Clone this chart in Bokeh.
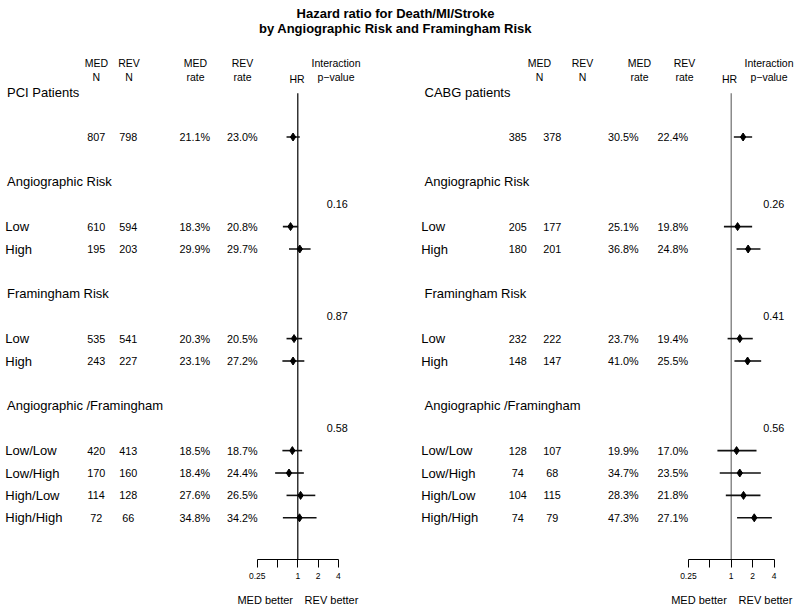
from bokeh.plotting import figure
from bokeh.models import Range1d, LogScale, LinearAxis, FixedTicker, ColumnDataSource
from bokeh.core.properties import value
from bokeh.embed import file_html
from bokeh.resources import INLINE

# ---------------- data ----------------
title_lines = ["Hazard ratio for Death/MI/Stroke", "by Angiographic Risk and Framingham Risk"]

header_top = ["MED", "REV", "MED", "REV"]
header_bot = ["N", "N", "rate", "rate"]
hr_header = "HR"
pval_header = ["Interaction", "p\u2212value"]

left_groups = ["PCI Patients", "Angiographic Risk", "Framingham Risk", "Angiographic /Framingham"]
right_groups = ["CABG patients", "Angiographic Risk", "Framingham Risk", "Angiographic /Framingham"]

row_labels = ["", "Low", "High", "Low", "High", "Low/Low", "Low/High", "High/Low", "High/High"]

# PCI patients
pci_med_n = ["807", "610", "195", "535", "243", "420", "170", "114", "72"]
pci_rev_n = ["798", "594", "203", "541", "227", "413", "160", "128", "66"]
pci_med_rate = ["21.1%", "18.3%", "29.9%", "20.3%", "23.1%", "18.5%", "18.4%", "27.6%", "34.8%"]
pci_rev_rate = ["23.0%", "20.8%", "29.7%", "20.5%", "27.2%", "18.7%", "24.4%", "26.5%", "34.2%"]
pci_hr = [0.85, 0.78, 1.07, 0.88, 0.85, 0.83, 0.74, 1.10, 1.06]
pci_lo = [0.68, 0.60, 0.74, 0.68, 0.59, 0.59, 0.46, 0.68, 0.60]
pci_hi = [1.07, 1.01, 1.55, 1.16, 1.25, 1.16, 1.23, 1.82, 1.90]
pci_pvals = ["0.16", "0.87", "0.58"]

# CABG patients
cabg_med_n = ["385", "205", "180", "232", "148", "128", "74", "104", "74"]
cabg_rev_n = ["378", "177", "201", "222", "147", "107", "68", "115", "79"]
cabg_med_rate = ["30.5%", "25.1%", "36.8%", "23.7%", "41.0%", "19.9%", "34.7%", "28.3%", "47.3%"]
cabg_rev_rate = ["22.4%", "19.8%", "24.8%", "19.4%", "25.5%", "17.0%", "23.5%", "21.8%", "27.1%"]
cabg_hr = [1.47, 1.23, 1.73, 1.32, 1.70, 1.19, 1.32, 1.49, 2.11]
cabg_lo = [1.09, 0.79, 1.19, 0.89, 1.11, 0.64, 0.69, 0.84, 1.21]
cabg_hi = [1.97, 1.97, 2.58, 2.01, 2.64, 2.27, 2.61, 2.58, 3.73]
cabg_pvals = ["0.26", "0.41", "0.56"]

null_hr = 1.0
tick_vals = [0.25, 0.5, 1, 2, 4]
tick_labels = ["0.25", "", "1", "2", "4"]
better_labels = ["MED better", "REV better"]

# row slots (layout)
group_rows = [0, 4, 9, 14]
data_rows = [2, 6, 7, 11, 12, 16, 17, 18, 19]
pval_rows = [5, 10, 15]

# ---------------- layout ----------------
FONT = "Liberation Sans"
W, H = 800, 610
ROW0, ROWH = 91.7, 22.4


def ry(img_y):
    return (img_y - ROW0) / ROWH


def fx(img_x):
    return img_x


p = figure(width=W, height=H, output_backend="svg", toolbar_location=None,
           x_axis_type=None, y_axis_type=None, min_border=0,
           x_range=Range1d(0, W), y_range=Range1d(ry(H), ry(0)))
p.outline_line_color = None
p.background_fill_color = "white"
p.border_fill_color = "white"

# log scales for the two forest panels
L_ONE, L_K = fx(297.3), 20.25
R_ONE, R_K = fx(730.7), 21.4
p.extra_x_ranges = {
    "L": Range1d(2 ** (-L_ONE / L_K), 2 ** ((W - L_ONE) / L_K)),
    "R": Range1d(2 ** (-R_ONE / R_K), 2 ** ((W - R_ONE) / R_K)),
}
p.extra_x_scales = {"L": LogScale(), "R": LogScale()}


def txt(xs, ys, texts, size, align="center", style="normal", baseline="middle"):
    p.text(x=xs, y=ys, text=texts, text_font=value(FONT), text_font_size=size,
           text_font_style=style, text_align=align, text_baseline=baseline,
           text_color="black")


# title
txt([fx(395)] * 2, [ry(12.7), ry(27.7)], title_lines, "13px", style="bold")

panels = [
    dict(groups=left_groups, med_n=pci_med_n, rev_n=pci_rev_n, med_rate=pci_med_rate,
         rev_rate=pci_rev_rate, hr=pci_hr, lo=pci_lo, hi=pci_hi, pv=pci_pvals, rng="L",
         head_x=[95.8, 128.5, 195, 242], hr_x=296.5, pvh_x=335.5,
         col_x=[95.7, 127.7, 194.3, 241.7], pv_x=336.7, grp_x=6.5, lab_x=4.8,
         vline="black", better_x=[264.7, 331]),
    dict(groups=right_groups, med_n=cabg_med_n, rev_n=cabg_rev_n, med_rate=cabg_med_rate,
         rev_rate=cabg_rev_rate, hr=cabg_hr, lo=cabg_lo, hi=cabg_hi, pv=cabg_pvals, rng="R",
         head_x=[539, 582, 639, 684], hr_x=729, pvh_x=768.5,
         col_x=[517.3, 551.7, 622.7, 672.3], pv_x=773.3, grp_x=424, lab_x=420.7,
         vline="#6e6e6e", better_x=[698.5, 765]),
]

for pn in panels:
    # column headers
    txt([fx(x) for x in pn["head_x"]], [ry(62.7)] * 4, header_top, "10.5px")
    txt([fx(x) for x in pn["head_x"]], [ry(76)] * 4, header_bot, "10.5px")
    txt([fx(pn["hr_x"])], [ry(78.5)], [hr_header], "10.5px")
    txt([fx(pn["pvh_x"])] * 2, [ry(62.7), ry(76)], pval_header, "10.5px")

    # group headings and row labels
    txt([fx(pn["grp_x"])] * 4, group_rows, pn["groups"], "13px", align="left")
    txt([fx(pn["lab_x"])] * len(data_rows), data_rows, row_labels, "13px", align="left")

    # numeric columns
    for cx, col in zip(pn["col_x"], ["med_n", "rev_n", "med_rate", "rev_rate"]):
        txt([fx(cx)] * len(data_rows), data_rows, pn[col], "10.8px")
    txt([fx(pn["pv_x"])] * 3, pval_rows, pn["pv"], "10.8px")

    # forest plot
    src = ColumnDataSource(dict(row=data_rows, hr=pn["hr"], lo=pn["lo"], hi=pn["hi"]))
    p.segment(x0=[null_hr], x1=[null_hr], y0=[ry(92.7)], y1=[ry(559.3)],
              line_color=pn["vline"], line_width=1.2, x_range_name=pn["rng"])
    p.segment(x0="lo", x1="hi", y0="row", y1="row", source=src, line_color="#111111",
              line_width=1.6, x_range_name=pn["rng"])
    p.scatter(x="hr", y="row", source=src, marker="diamond", size=8, fill_color="black",
              line_color="black", x_range_name=pn["rng"])

    ax = LinearAxis(x_range_name=pn["rng"], fixed_location=ry(559.3),
                    bounds=(tick_vals[0], tick_vals[-1]),
                    ticker=FixedTicker(ticks=tick_vals),
                    major_label_overrides={float(v): s for v, s in zip(tick_vals, tick_labels)})
    ax.axis_line_color = "black"
    ax.axis_line_width = 1
    ax.major_tick_line_color = "black"
    ax.major_tick_out = 8
    ax.major_tick_in = 0
    ax.minor_tick_line_color = None
    ax.major_label_standoff = 5
    ax.major_label_text_font = FONT
    ax.major_label_text_font_size = "8.5px"
    ax.major_label_text_color = "black"
    p.add_layout(ax, "below")

    txt([fx(x) for x in pn["better_x"]], [ry(599)] * 2, better_labels, "11px")

open("out.html", "w").write(file_html(p, INLINE))
